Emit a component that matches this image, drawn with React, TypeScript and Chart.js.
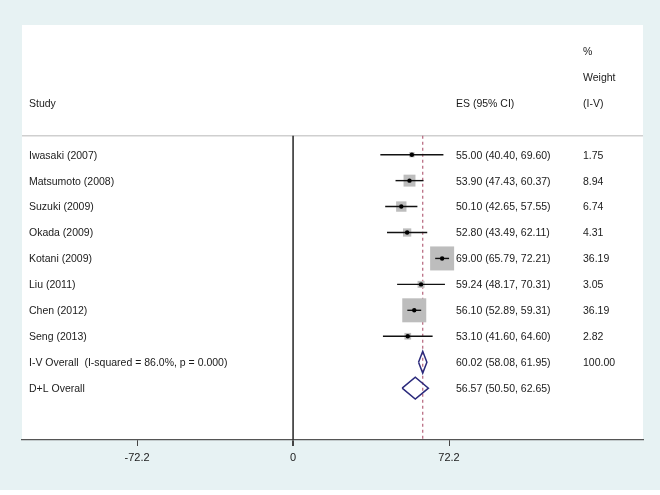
import React, { useEffect, useRef } from "react";
import { Chart, registerables } from "chart.js";
Chart.register(...registerables);

// ---- data ----
const studies = [
  "Iwasaki (2007)",
  "Matsumoto (2008)",
  "Suzuki (2009)",
  "Okada (2009)",
  "Kotani (2009)",
  "Liu (2011)",
  "Chen (2012)",
  "Seng (2013)",
];
const es = [55.0, 53.9, 50.1, 52.8, 69.0, 59.24, 56.1, 53.1];
const lower = [40.4, 47.43, 42.65, 43.49, 65.79, 48.17, 52.89, 41.6];
const upper = [69.6, 60.37, 57.55, 62.11, 72.21, 70.31, 59.31, 64.6];
const weights = [1.75, 8.94, 6.74, 4.31, 36.19, 3.05, 36.19, 2.82];

const overallLabels = ["I-V Overall  (I-squared = 86.0%, p = 0.000)", "D+L Overall"];
const overallES = [60.02, 56.57];
const overallLower = [58.08, 50.5];
const overallUpper = [61.95, 62.65];
const overallWeight = ["100.00", ""];

const xTicks = [-72.2, 0, 72.2];

const FONT = '"Liberation Sans", Arial, Helvetica, sans-serif';

export default function App() {
  const ref = useRef<HTMLCanvasElement>(null);

  useEffect(() => {
    const canvas = ref.current!;
    const n = studies.length;
    const headerRow = -0.73;
    const maxW = Math.max(...weights);
    const maxSide = 24;

    const squares = {
      type: "scatter",
      data: es.map((v, i) => ({ x: v, y: i })),
      pointStyle: "rect",
      pointRadius: weights.map((w) => (maxSide * Math.sqrt(w / maxW)) / Math.SQRT2),
      pointBackgroundColor: "#bdbdbd",
      pointBorderWidth: 0,
      pointBorderColor: "rgba(0,0,0,0)",
      showLine: false,
      order: 10,
    };
    const ciSets = studies.map((_, i) => ({
      type: "scatter",
      data: [
        { x: lower[i], y: i },
        { x: upper[i], y: i },
      ],
      showLine: true,
      borderColor: "#111",
      borderWidth: 1.4,
      pointRadius: 0,
      order: 5,
    }));
    const dots = {
      type: "scatter",
      data: es.map((v, i) => ({ x: v, y: i })),
      pointRadius: 2.2,
      pointBackgroundColor: "#000",
      pointBorderWidth: 0,
      showLine: false,
      order: 1,
    };
    const diamonds = overallLabels.map((_, j) => {
      const y = n + j;
      const h = 0.42;
      return {
        type: "scatter",
        data: [
          { x: overallLower[j], y },
          { x: overallES[j], y: y - h },
          { x: overallUpper[j], y },
          { x: overallES[j], y: y + h },
          { x: overallLower[j], y },
        ],
        showLine: true,
        borderColor: "#2b2a7c",
        borderWidth: 1.5,
        pointRadius: 0,
        tension: 0,
        order: 2,
      };
    });
    const zeroLine = {
      type: "scatter",
      data: [
        { x: 0, y: headerRow },
        { x: 0, y: 11 },
      ],
      showLine: true,
      borderColor: "#333",
      borderWidth: 1.6,
      pointRadius: 0,
      order: 20,
    };
    const dashLine = {
      type: "scatter",
      data: [
        { x: overallES[0], y: headerRow },
        { x: overallES[0], y: 11 },
      ],
      showLine: true,
      borderColor: "#b5647c",
      borderWidth: 1.2,
      borderDash: [3, 3],
      pointRadius: 0,
      order: 15,
    };

    const bgPlugin = {
      id: "bg",
      beforeDraw(chart: any) {
        const { ctx, chartArea } = chart;
        ctx.save();
        ctx.fillStyle = "#ffffff";
        ctx.fillRect(0, 0, chart.width, chart.height);
        ctx.fillStyle = "#e7f2f3";
        ctx.fillRect(0, 0, chart.width, 490);
        ctx.fillStyle = "#ffffff";
        ctx.fillRect(chartArea.left, chartArea.top, chartArea.right - chartArea.left, chartArea.bottom - chartArea.top);
        const ys = chart.scales.y;
        const yy = ys.getPixelForValue(headerRow);
        ctx.strokeStyle = "#cfcfcf";
        ctx.lineWidth = 1.5;
        ctx.beginPath();
        ctx.moveTo(chartArea.left, yy);
        ctx.lineTo(chartArea.right, yy);
        ctx.stroke();
        ctx.restore();
      },
    };

    const textPlugin = {
      id: "texts",
      afterDraw(chart: any) {
        const { ctx } = chart;
        const ys = chart.scales.y;
        const colStudy = 29;
        const colES = 456;
        const colW = 583;
        ctx.save();
        ctx.font = `10.5px ${FONT}`;
        ctx.fillStyle = "#1a1a1a";
        ctx.textBaseline = "middle";
        ctx.textAlign = "left";
        const off = 1;
        ctx.fillText("%", colW, ys.getPixelForValue(-4) + off);
        ctx.fillText("Weight", colW, ys.getPixelForValue(-3) + off);
        ctx.fillText("(I-V)", colW, ys.getPixelForValue(-2) + off);
        ctx.fillText("Study", colStudy, ys.getPixelForValue(-2) + off);
        ctx.fillText("ES (95% CI)", colES, ys.getPixelForValue(-2) + off);
        const f = (v: number) => v.toFixed(2);
        studies.forEach((s, i) => {
          const y = ys.getPixelForValue(i) + off;
          ctx.fillText(s, colStudy, y);
          ctx.fillText(`${f(es[i])} (${f(lower[i])}, ${f(upper[i])})`, colES, y);
          ctx.fillText(f(weights[i]), colW, y);
        });
        overallLabels.forEach((s, j) => {
          const y = ys.getPixelForValue(n + j) + off;
          ctx.fillText(s, colStudy, y);
          ctx.fillText(`${f(overallES[j])} (${f(overallLower[j])}, ${f(overallUpper[j])})`, colES, y);
          if (overallWeight[j]) ctx.fillText(overallWeight[j], colW, y);
        });
        ctx.restore();
      },
    };

    const chart = new Chart(canvas, {
      type: "scatter",
      data: {
        datasets: [squares, ...ciSets, dots, ...diamonds, zeroLine, dashLine] as any,
      },
      options: {
        animation: false,
        responsive: false,
        devicePixelRatio: 1,
        layout: { padding: { left: 22, right: 17, top: 25, bottom: 0 } },
        plugins: { legend: { display: false }, tooltip: { enabled: false } },
        scales: {
          x: {
            type: "linear",
            min: -125.5,
            max: 162,
            afterBuildTicks: (s: any) => {
              s.ticks = xTicks.map((v) => ({ value: v }));
            },
            afterFit: (s: any) => {
              s.height = 55;
            },
            grid: {
              drawOnChartArea: false,
              drawTicks: true,
              tickLength: 6,
              color: "#444",
              lineWidth: (c: any) => (c.tick && c.tick.value === 0 ? 2 : 1),
            },
            border: { display: true, color: "#555", width: 1.2 },
            ticks: {
              color: "#1a1a1a",
              font: { family: FONT, size: 11 },
              padding: 5,
              maxRotation: 0,
              callback: (v: any) => String(v),
            },
          },
          y: {
            type: "linear",
            display: false,
            min: -5,
            max: 11,
            reverse: true,
          },
        },
      } as any,
      plugins: [bgPlugin, textPlugin],
    });
    return () => chart.destroy();
  }, []);

  return (
    <div style={{ position: "fixed", left: 0, top: 0, width: 660, height: 495 }}>
      <canvas ref={ref} width={660} height={495} style={{ display: "block" }} />
    </div>
  );
}
